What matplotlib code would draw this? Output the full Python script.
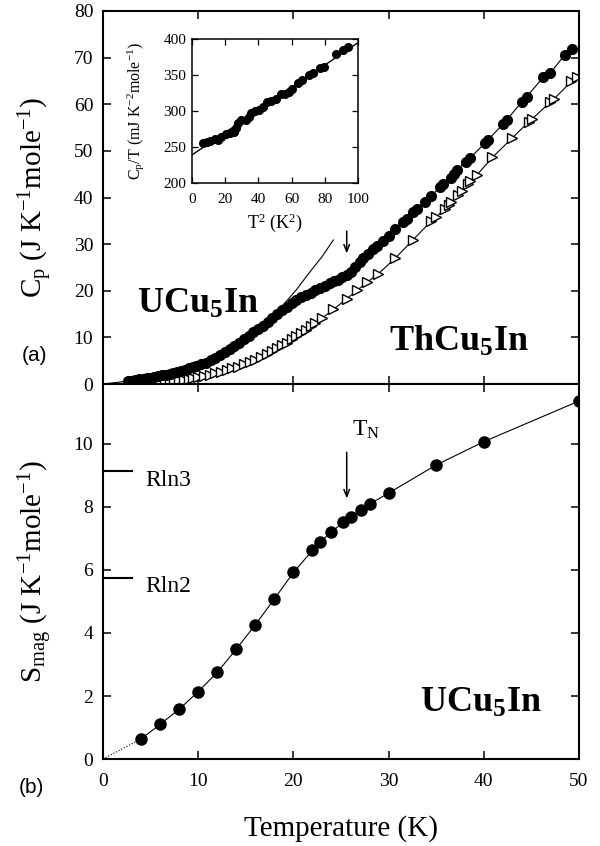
import matplotlib
matplotlib.use("Agg")
import matplotlib.pyplot as plt

plt.rcParams['font.family'] = ['Liberation Serif', 'DejaVu Serif']
plt.rcParams['mathtext.fontset'] = 'custom'
plt.rcParams['mathtext.rm'] = 'Liberation Serif'
plt.rcParams['mathtext.it'] = 'Liberation Serif:italic'
plt.rcParams['mathtext.bf'] = 'Liberation Serif:bold'

# ---- panel (a): specific heat ----
u_T = [2.6, 3.0, 3.4, 3.8, 4.2, 4.6, 5.0, 5.4, 5.8, 6.2, 6.6, 7.0, 7.4, 7.8, 8.2, 8.6,
       9.0, 9.4, 9.8, 10.3, 10.8, 11.3, 11.8, 12.3, 12.8, 13.3, 13.8, 14.3, 14.8, 15.3,
       15.8, 16.3, 16.8, 17.3, 17.8, 18.3, 18.8, 19.3, 19.8, 20.3, 20.8, 21.3, 21.8, 22.3,
       22.8, 23.3, 23.8, 24.3, 24.7, 25.1, 25.6, 26.0, 26.5, 27.0, 27.3, 27.8, 28.4, 28.8,
       29.4, 30.0, 30.7, 31.5, 31.9, 32.6, 32.95, 33.8, 34.5, 35.4, 35.7, 36.6, 36.9, 37.2,
       38.1, 38.5, 40.1, 40.4, 42.05, 42.4, 43.98, 44.5, 46.25, 46.95, 48.5, 49.23]
u_Cp = [0.66, 0.76, 0.88, 1.0, 1.12, 1.25, 1.36, 1.5, 1.65, 1.85, 2.0, 2.2, 2.4, 2.65, 2.9, 3.1,
        3.35, 3.6, 3.8, 4.2, 4.6, 5.1, 5.6, 6.2, 6.9, 7.5, 8.2, 8.9, 9.6, 10.4,
        11.1, 11.8, 12.5, 13.4, 14.2, 15.0, 15.8, 16.6, 17.3, 18.0, 18.6, 19.1, 19.6, 20.1,
        20.6, 21.1, 21.6, 22.0, 22.4, 22.9, 23.4, 24.1, 25.0, 26.2, 27.0, 27.9, 29.0, 29.7,
        30.7, 31.7, 33.2, 34.8, 35.5, 37.0, 37.5, 39.1, 40.3, 42.3, 43.0, 44.2, 45.0, 45.9,
        47.7, 48.4, 51.6, 52.3, 55.8, 56.6, 60.5, 61.6, 65.8, 66.6, 70.6, 71.8]

th_T = [2.8, 3.2, 3.6, 4.0, 4.4, 4.8, 5.2, 5.6, 6.0, 6.5, 7.0, 7.5, 8.0, 8.5, 9.0, 9.5,
        10.0, 10.6, 11.2, 11.8, 12.4, 13.0, 13.6, 14.2, 14.8, 15.4, 16.0, 16.6, 17.2, 17.8,
        18.3, 18.8, 19.3, 19.8, 20.3, 20.8, 21.3, 21.8, 22.3, 23.0, 24.2, 25.6, 26.7, 27.7,
        28.9, 30.7, 32.6, 34.5, 35.0, 35.9, 36.3, 36.6, 37.3, 37.7, 38.3, 38.6, 39.3, 40.9,
        43.0, 44.7, 45.1, 46.95, 47.4, 49.2, 49.8]
th_Cp = [0.04, 0.06, 0.08, 0.11, 0.14, 0.18, 0.23, 0.28, 0.35, 0.44, 0.55, 0.67, 0.8, 0.95, 1.1, 1.28,
         1.48, 1.72, 2.0, 2.3, 2.6, 2.95, 3.35, 3.75, 4.2, 4.7, 5.2, 5.8, 6.4, 7.1,
         7.7, 8.3, 8.9, 9.6, 10.3, 11.0, 11.7, 12.4, 13.1, 14.1, 16.0, 18.3, 20.1, 21.8,
         23.6, 27.0, 31.0, 35.0, 35.8, 37.6, 38.5, 39.1, 40.5, 41.3, 42.8, 43.6, 44.9, 48.6,
         52.8, 56.2, 56.9, 60.4, 61.2, 64.9, 65.9]

# low-temperature fit curve (gamma T + beta T^3)
fit_T = [0, 3, 6, 9, 12, 15, 17, 18.9, 20.3, 21.6, 23, 24.2]
fit_Cp = [0, 0.75, 1.6, 3.1, 6.0, 10.4, 13.6, 16.9, 20.2, 23.7, 27.3, 30.9]

# inset: Cp/T vs T^2
ins_T2 = [6.6, 9.0, 11.0, 13.7, 15.7, 17.7, 20.3, 22.7, 25.1, 26.3, 27.7, 29.7, 32.3, 34.3,
          35.7, 37.8, 40.4, 42.8, 45.2, 47.8, 50.4, 53.8, 55.8, 58.4, 60.4, 63.9, 66.5,
          70.5, 72.9, 76.9, 79.3, 87.0, 91.0, 94.0]
ins_CpT = [256, 257, 258, 261, 260, 263.5, 268, 269, 271, 277, 283.7, 287.4, 288, 292,
           296.6, 300, 302, 305, 312.6, 314, 316, 324, 324, 326.4, 331, 339, 342.5,
           349.4, 352.6, 360, 361.8, 379, 385, 389.4]
ins_fit_x = [0, 100]
ins_fit_y = [239, 395]

# ---- panel (b): magnetic entropy ----
s_T = [4, 6, 8, 10, 12, 14, 16, 18, 20, 22, 22.8, 24, 25.2, 26, 27.1, 28, 30, 35, 40, 50]
s_mag = [0.64, 1.10, 1.58, 2.14, 2.75, 3.49, 4.26, 5.08, 5.92, 6.62, 6.89, 7.20, 7.51,
         7.68, 7.91, 8.09, 8.44, 9.33, 10.07, 11.36]
r_levels = [5.76, 9.13]
r_names = ['Rln2', 'Rln3']
T_N = 25.6

fig = plt.figure(figsize=(6, 8.46), dpi=100)
ax1 = fig.add_axes([0.1717, 0.546, 0.7933, 0.441])
ax2 = fig.add_axes([0.1717, 0.1028, 0.7933, 0.4433])
ins = fig.add_axes([0.32, 0.7837, 0.2767, 0.1702])

for ax in (ax1, ax2):
    for s in ax.spines.values():
        s.set_linewidth(1.5)
    ax.tick_params(direction='in', top=True, right=True, length=6, width=1.1,
                   labelsize=14, pad=7)
    ax.tick_params(axis='x', pad=10)
    ax.set_xlim(0, 50)
    ax.set_xticks([0, 10, 20, 30, 40, 50])

# panel (a)
ax1.plot(fit_T, fit_Cp, color='black', lw=0.8)
ax1.plot(th_T, th_Cp, color='black', lw=0.8, marker='>', ms=6.5, mfc='white',
         mec='black', mew=1.0)
ax1.plot(u_T, u_Cp, color='black', lw=0.8, marker='o', ms=7, mfc='black', mec='black')
ax1.set_ylim(0, 80)
ax1.set_yticks(range(0, 81, 10))
ax1.tick_params(labelbottom=False)
ax1.set_ylabel(r'C$_\mathrm{p}$ (J K$^{-1}$mole$^{-1}$)', fontsize=21)
ax1.yaxis.set_label_coords(-0.10, 0.5)
ax1.annotate('', xy=(T_N, 27.4), xytext=(T_N, 33.4),
             arrowprops=dict(arrowstyle='->,head_length=0.5,head_width=0.2', color='black', lw=1.1))
ax1.text(3.6, 15.3, r'$\mathbf{UCu}_{\mathbf{5}}\mathbf{In}$', fontsize=26, ha='left', va='baseline')
ax1.text(30.0, 7.1, r'$\mathbf{ThCu}_{\mathbf{5}}\mathbf{In}$', fontsize=26, ha='left', va='baseline')

# inset
ins.plot(ins_fit_x, ins_fit_y, color='black', lw=1.0)
ins.plot(ins_T2, ins_CpT, 'o', color='black', ms=5.5)
ins.set_xlim(0, 100)
ins.set_ylim(200, 400)
ins.set_xticks(range(0, 101, 20))
ins.set_yticks(range(200, 401, 50))
for s in ins.spines.values():
    s.set_linewidth(1.1)
ins.tick_params(direction='in', top=True, right=True, length=4, width=0.9,
                labelsize=11, pad=4)
ins.tick_params(axis='x', pad=7)
ins.set_xlabel(r'T$^2$ (K$^2$)', fontsize=13)
ins.xaxis.set_label_coords(0.5, -0.2)
ins.set_ylabel(r'C$_\mathrm{p}$/T (mJ K$^{-2}$mole$^{-1}$)', fontsize=11.5)
ins.yaxis.set_label_coords(-0.28, 0.5)

# panel (b)
ax2.plot([0, s_T[0]], [0, s_mag[0]], color='black', lw=0.8, ls=':')
ax2.plot(s_T, s_mag, color='black', lw=0.8, marker='o', ms=8, mfc='black', mec='black')
ax2.set_ylim(0, 11.9)
ax2.set_yticks([0, 2, 4, 6, 8, 10])
ax2.set_ylabel(r'S$_\mathrm{mag}$ (J K$^{-1}$mole$^{-1}$)', fontsize=21)
ax2.yaxis.set_label_coords(-0.10, 0.5)
ax2.set_xlabel('Temperature (K)', fontsize=21)
ax2.xaxis.set_label_coords(0.5, -0.15)
for lev, name in zip(r_levels, r_names):
    ax2.plot([0, 3.05], [lev, lev], color='black', lw=1.5, clip_on=False)
    ax2.text(4.4, lev - 0.3, name, fontsize=17, ha='left', va='center')
ax2.annotate('', xy=(T_N, 8.18), xytext=(T_N, 9.82),
             arrowprops=dict(arrowstyle='->,head_length=0.5,head_width=0.2', color='black', lw=1.1))
ax2.text(27.6, 10.45, r'T$_\mathrm{N}$', fontsize=17, ha='center', va='center')
ax2.text(33.3, 1.5, r'$\mathbf{UCu}_{\mathbf{5}}\mathbf{In}$', fontsize=26, ha='left', va='baseline')

fig.text(0.057, 0.580, '(a)', fontsize=15, family='Liberation Sans', ha='center', va='center')
fig.text(0.053, 0.069, '(b)', fontsize=15, family='Liberation Sans', ha='center', va='center')

fig.savefig('out.png', dpi=100)
